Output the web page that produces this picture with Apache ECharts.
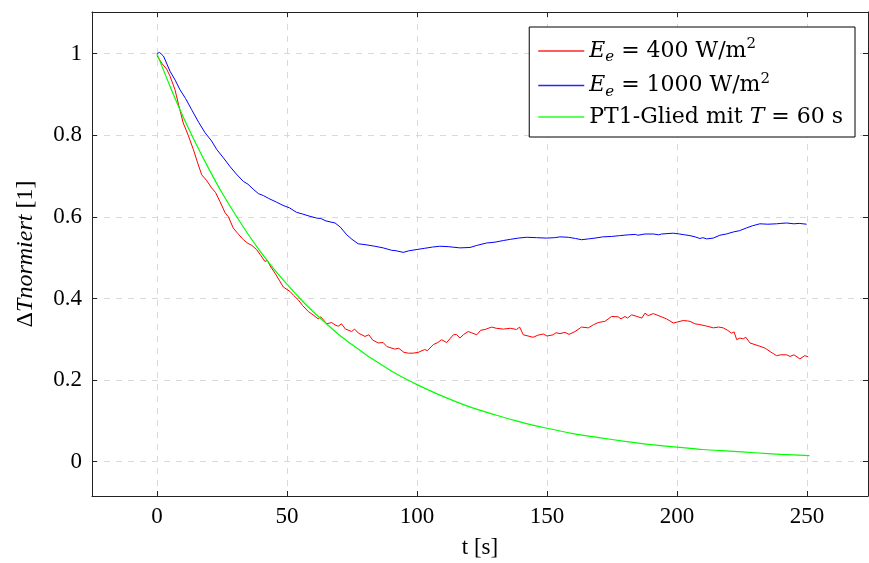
<!DOCTYPE html>
<html>
<head>
<meta charset="utf-8">
<script src="https://cdn.jsdelivr.net/npm/echarts@6/dist/echarts.min.js"></script>
<style>
  html, body { margin: 0; padding: 0; background: #fff; }
  #chart { width: 869px; height: 563px; }
</style>
</head>
<body>
<div id="chart"></div>
<script>
// red: E_e = 400 W/m^2
const tRed = [0, 2, 3.7, 5, 6.9, 8.5, 10.1, 12, 14, 15.5, 17.2, 19, 21, 22.5, 24.2, 26.2, 27.5, 29.3, 31, 33.2,
  35, 36.5, 38.3, 40, 41.5, 42.5, 43.5, 45.4, 47, 48.6, 51.2, 52.5, 54.3, 56, 58.2, 60, 62, 63, 65.3, 67.2,
  68.5, 69.7, 71, 72.5, 74.9, 76, 77.5, 80, 81.5, 83, 85.1, 87, 88.5, 91.5, 93, 95, 96.7, 98.5, 100.5, 103,
  104, 106.3, 108, 109.5, 111.4, 114, 115.2, 116.5, 118, 119.7, 121, 123, 124.5, 126.2, 128.7, 130.5, 133.2, 136, 138.3, 139.5,
  140.9, 144.7, 146.5, 148.6, 150, 152.4, 153.5, 155, 156.9, 158.5, 160.8, 163.3, 165.9, 168, 169.7, 172.3, 174.9, 177.4, 178.5, 180,
  181, 182.6, 185.1, 186.5, 187.7, 189, 190.9, 194.1, 196, 198.6, 200, 202.4, 204, 205, 206.9, 208.8, 211, 214, 216, 217.8,
  219.5, 221, 222, 223, 224.2, 225.5, 226.5, 228.1, 231.9, 234, 235.8, 238.3, 240, 242.2, 243.5, 245, 247.3, 249.2, 250.5]
const yRed = [0.995, 0.975, 0.962, 0.945, 0.912, 0.870, 0.830, 0.800, 0.765, 0.735, 0.703, 0.690, 0.671, 0.660, 0.638, 0.610, 0.600, 0.573, 0.560, 0.544,
  0.535, 0.530, 0.520, 0.505, 0.491, 0.493, 0.480, 0.462, 0.445, 0.428, 0.417, 0.408, 0.397, 0.383, 0.368, 0.360, 0.350, 0.355, 0.338, 0.341,
  0.335, 0.332, 0.338, 0.325, 0.319, 0.325, 0.315, 0.307, 0.311, 0.298, 0.291, 0.292, 0.282, 0.276, 0.278, 0.268, 0.266, 0.266, 0.268, 0.275,
  0.272, 0.287, 0.292, 0.299, 0.292, 0.311, 0.312, 0.303, 0.312, 0.319, 0.316, 0.311, 0.322, 0.324, 0.330, 0.327, 0.325, 0.327, 0.324, 0.330,
  0.311, 0.305, 0.310, 0.313, 0.308, 0.311, 0.316, 0.314, 0.317, 0.312, 0.319, 0.330, 0.328, 0.336, 0.341, 0.344, 0.356, 0.355, 0.350, 0.356,
  0.352, 0.360, 0.355, 0.352, 0.364, 0.358, 0.363, 0.355, 0.350, 0.340, 0.342, 0.346, 0.345, 0.344, 0.338, 0.336, 0.333, 0.328, 0.330, 0.328,
  0.322, 0.315, 0.318, 0.299, 0.303, 0.301, 0.305, 0.291, 0.283, 0.278, 0.270, 0.260, 0.262, 0.262, 0.258, 0.262, 0.252, 0.260, 0.257]

// blue: E_e = 1000 W/m^2
const tBlue = [0, 1, 2.5, 5, 7, 8.8, 11, 13.3, 16, 18.5, 21, 23, 25.5, 28, 30.5, 33.2, 35, 37, 39, 41,
  43, 46, 48.5, 51, 53.7, 56, 58.5, 61.4, 63, 65, 68.5, 70.5, 73, 75, 77.4, 80, 83.8, 87, 90.3, 92,
  94.7, 97, 100, 103, 106, 108.8, 112, 116.5, 120.4, 123, 126.8, 130, 133.2, 136, 139, 142.2, 146, 149.9, 153, 155,
  158.2, 161, 163.3, 166, 168.5, 171.5, 174.9, 178, 181.3, 184, 185, 187.7, 191, 193, 194.1, 198.6, 201, 203, 205, 207,
  208.8, 210, 211.4, 214, 216.5, 219, 221.7, 224, 226.8, 229, 231.9, 235, 238.3, 240, 242.2, 245, 247, 249.9]
const yBlue = [1.000, 1.003, 0.994, 0.957, 0.935, 0.912, 0.890, 0.863, 0.832, 0.806, 0.786, 0.765, 0.745, 0.724, 0.705, 0.687, 0.680, 0.668, 0.657, 0.652,
  0.645, 0.636, 0.628, 0.622, 0.611, 0.607, 0.602, 0.597, 0.596, 0.590, 0.585, 0.575, 0.556, 0.545, 0.534, 0.532, 0.528, 0.524, 0.518, 0.517,
  0.513, 0.517, 0.520, 0.523, 0.526, 0.528, 0.527, 0.524, 0.525, 0.530, 0.536, 0.538, 0.542, 0.545, 0.548, 0.550, 0.549, 0.548, 0.549, 0.551,
  0.550, 0.547, 0.544, 0.546, 0.548, 0.551, 0.552, 0.554, 0.556, 0.557, 0.555, 0.558, 0.558, 0.556, 0.558, 0.560, 0.558, 0.556, 0.554, 0.551,
  0.547, 0.549, 0.546, 0.548, 0.555, 0.558, 0.563, 0.566, 0.573, 0.578, 0.583, 0.582, 0.583, 0.584, 0.585, 0.583, 0.584, 0.582]

// green: PT1-Glied mit T = 60 s
const tGreen = [0, 5, 10, 15, 20, 25, 30, 35, 40, 45, 50, 55, 60, 65, 70, 75, 80, 85, 90, 95,
  100, 110, 120, 130, 140, 150, 160, 170, 180, 190, 200, 210, 220, 230, 240, 251]
const yGreen = [1.000, 0.920, 0.846, 0.779, 0.717, 0.659, 0.607, 0.558, 0.513, 0.472, 0.435, 0.400, 0.368, 0.339, 0.311, 0.287, 0.264, 0.243, 0.223, 0.205,
  0.189, 0.160, 0.135, 0.115, 0.097, 0.082, 0.069, 0.059, 0.050, 0.042, 0.036, 0.030, 0.026, 0.022, 0.018, 0.015]

const xTicks = [0, 50, 100, 150, 200, 250]
const yTicks = [0, 0.2, 0.4, 0.6, 0.8, 1]
const seriesNames = ['E400', 'E1000', 'PT1']
const seriesColors = ['#ff0000', '#0000ff', '#00ff00']

function pairs(xs, ys) {
  return xs.map((x, i) => [x, ys[i]])
}

const font = '"Liberation Serif", "DejaVu Serif", serif'
const legendFont = '"DejaVu Serif", "Liberation Serif", serif'
const fs = 23
const lfs = 22
const frameColor = '#222'
const gridLine = { show: true, lineStyle: { color: '#d9d9d9', type: [6, 6], width: 1 } }
const tick = { show: true, inside: true, length: 5, lineStyle: { color: frameColor } }

// rich styles for the math-like legend text
const richLegend = {
  n: { fontFamily: legendFont, fontSize: lfs, color: '#000', lineHeight: 28 },
  i: { fontFamily: legendFont, fontSize: lfs, fontStyle: 'italic', color: '#000', lineHeight: 28 },
  s: { fontFamily: legendFont, fontSize: 15, fontStyle: 'italic', color: '#000', verticalAlign: 'bottom', lineHeight: 16 },
  p: { fontFamily: legendFont, fontSize: 15, color: '#000', verticalAlign: 'top', lineHeight: 16 }
}

const chart = echarts.init(document.getElementById('chart'))

chart.setOption({
  animation: false,
  textStyle: { fontFamily: font },
  grid: { left: 92, right: 1, top: 12, bottom: 67, outerBoundsMode: 'none' },
  legend: {
    right: 14,
    top: 27,
    orient: 'vertical',
    itemGap: 6.5,
    itemWidth: 46,
    itemHeight: 1.5,
    icon: 'rect',
    backgroundColor: '#fff',
    borderColor: '#000',
    borderWidth: 1,
    borderRadius: 0,
    padding: [10, 12, 9, 9],
    data: seriesNames.map((n, i) => ({ name: n, itemStyle: { color: seriesColors[i], opacity: 0.85 } })),
    formatter: function(name) {
      if (name === 'E400') return '{i|E}{s|e}{n| = 400 W/m}{p|2}'
      if (name === 'E1000') return '{i|E}{s|e}{n| = 1000 W/m}{p|2}'
      return '{n|PT1-Glied mit }{i|T}{n| = 60 s}'
    },
    textStyle: {
      fontFamily: legendFont,
      fontSize: lfs,
      color: '#000',
      rich: richLegend
    }
  },
  xAxis: [{
    type: 'value',
    min: -25,
    max: 273.5,
    name: 't [s]',
    nameLocation: 'middle',
    nameGap: 40,
    nameTextStyle: { fontFamily: font, fontSize: fs, color: '#000' },
    axisLine: { show: true, onZero: false, lineStyle: { color: frameColor } },
    axisTick: Object.assign({ customValues: xTicks }, tick),
    axisLabel: { customValues: xTicks, fontFamily: font, fontSize: fs, color: '#000', margin: 9 },
    splitLine: gridLine
  }, {
    type: 'value',
    position: 'top',
    min: -25,
    max: 273.5,
    axisLine: { show: true, onZero: false, lineStyle: { color: frameColor } },
    axisTick: Object.assign({ customValues: xTicks }, tick),
    axisLabel: { show: false },
    splitLine: { show: false }
  }],
  yAxis: [{
    type: 'value',
    min: -0.084,
    max: 1.102,
    name: '{n|Δ}{i|Tnormiert}{n| [1]}',
    nameLocation: 'middle',
    nameGap: 54,
    nameTextStyle: {
      fontFamily: font,
      fontSize: 24,
      color: '#000',
      rich: {
        n: { fontFamily: font, fontSize: 24, color: '#000' },
        i: { fontFamily: font, fontSize: 24, fontStyle: 'italic', color: '#000' }
      }
    },
    axisLine: { show: true, onZero: false, lineStyle: { color: frameColor } },
    axisTick: Object.assign({ customValues: yTicks }, tick),
    axisLabel: { customValues: yTicks, fontFamily: font, fontSize: fs, color: '#000', margin: 10 },
    splitLine: gridLine
  }, {
    type: 'value',
    position: 'right',
    min: -0.084,
    max: 1.102,
    axisLine: { show: true, onZero: false, lineStyle: { color: frameColor } },
    axisTick: Object.assign({ customValues: yTicks }, tick),
    axisLabel: { show: false },
    splitLine: { show: false }
  }],
  series: [{
    name: 'E400',
    type: 'line',
    data: pairs(tRed, yRed),
    showSymbol: false,
    color: seriesColors[0],
    lineStyle: { width: 1, color: seriesColors[0] }
  }, {
    name: 'E1000',
    type: 'line',
    data: pairs(tBlue, yBlue),
    showSymbol: false,
    color: seriesColors[1],
    lineStyle: { width: 1, color: seriesColors[1] }
  }, {
    name: 'PT1',
    type: 'line',
    data: pairs(tGreen, yGreen),
    showSymbol: false,
    smooth: 0.3,
    color: seriesColors[2],
    lineStyle: { width: 1.2, color: seriesColors[2] }
  }]
})
</script>
</body>
</html>
